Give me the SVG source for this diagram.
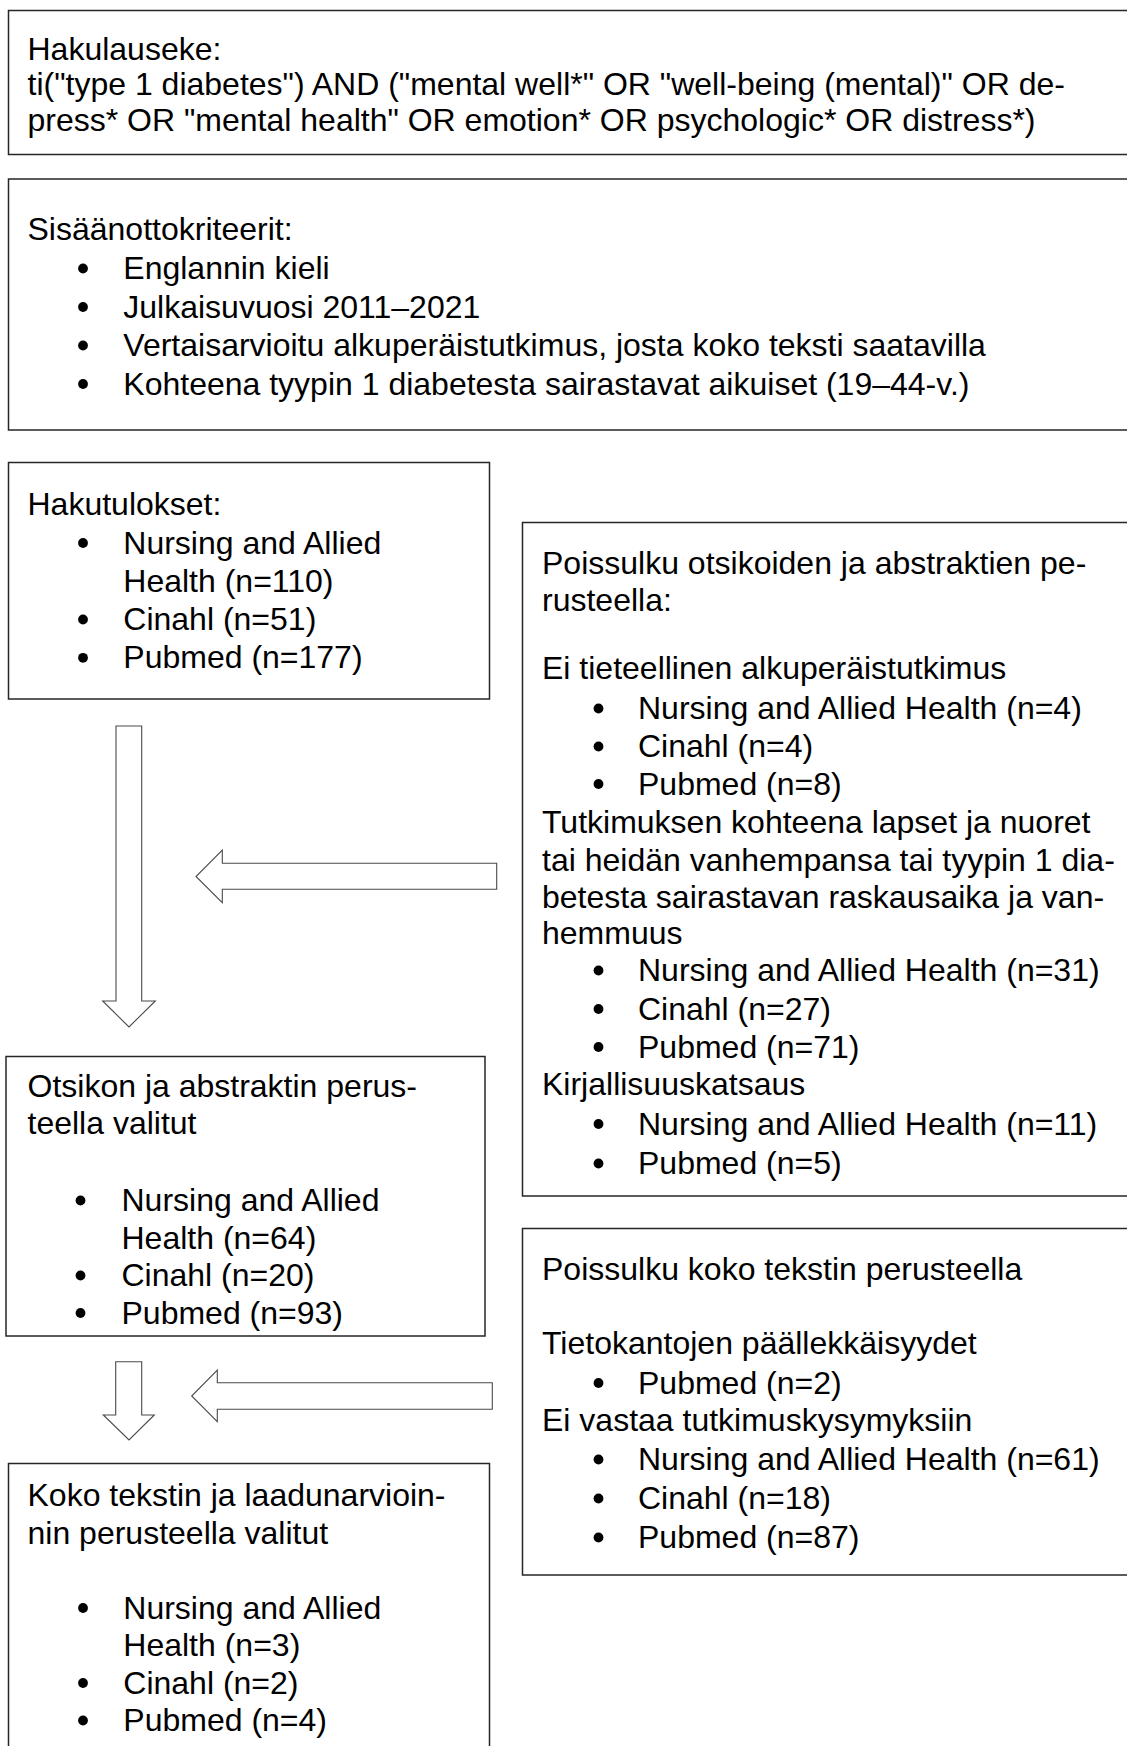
<svg xmlns="http://www.w3.org/2000/svg" width="1127" height="1746" viewBox="0 0 1127 1746">
<style>
.box{fill:#fff;stroke:#262626;stroke-width:1.5}
.arr{fill:#fff;stroke:#4a4a4a;stroke-width:1.1;stroke-linejoin:miter}
.b{fill:#000}
text{font-family:"Liberation Sans",Arial,sans-serif;font-size:32px;fill:#000}
</style>
<defs><circle id="dot" r="4.9" cx="0" cy="0"/></defs>
<rect width="1127" height="1746" fill="#fff"/>
<g id="connectors">
<polygon class="arr" points="116,726 141.7,726 141.7,1001 155.3,1001 129,1027 102.7,1001 116,1001"/>
<polygon class="arr" points="496.7,863.3 222.3,863.3 222.3,850 196,876.5 222.3,902.7 222.3,889.3 496.7,889.3"/>
<polygon class="arr" points="115.7,1361.7 141.7,1361.7 141.7,1415 154.3,1415 129,1440 103.3,1415 115.7,1415"/>
<polygon class="arr" points="492.3,1382.7 217.3,1382.7 217.3,1370 191.7,1396 217.3,1421.7 217.3,1409.3 492.3,1409.3"/>
</g>
<g id="hakulauseke">
<rect class="box" x="8.5" y="10.5" width="1140" height="144"/>
<text x="27.5" y="59.5">Hakulauseke:</text>
<text x="27.5" y="95">ti("type 1 diabetes") AND ("mental well*" OR "well-being (mental)" OR de-</text>
<text x="27.5" y="130.5">press* OR "mental health" OR emotion* OR psychologic* OR distress*)</text>
</g>
<g id="sisaanotto">
<rect class="box" x="8.5" y="179" width="1140" height="251"/>
<text x="27.5" y="240">Sisäänottokriteerit:</text>
<use href="#dot" class="b" x="83" y="268.5"/><text x="123.3" y="279">Englannin kieli</text>
<use href="#dot" class="b" x="83" y="307"/><text x="123.3" y="317.5">Julkaisuvuosi 2011–2021</text>
<use href="#dot" class="b" x="83" y="345.5"/><text x="123.3" y="356">Vertaisarvioitu alkuperäistutkimus, josta koko teksti saatavilla</text>
<use href="#dot" class="b" x="83" y="384"/><text x="123.3" y="394.5">Kohteena tyypin 1 diabetesta sairastavat aikuiset (19–44-v.)</text>
</g>
<g id="hakutulokset">
<rect class="box" x="8.5" y="462.5" width="481" height="236.5"/>
<text x="27.5" y="515">Hakutulokset:</text>
<use href="#dot" class="b" x="83" y="543"/><text x="123.3" y="553.5">Nursing and Allied</text>
<text x="123.3" y="591.5">Health (n=110)</text>
<use href="#dot" class="b" x="83" y="619.5"/><text x="123.3" y="630">Cinahl (n=51)</text>
<use href="#dot" class="b" x="83" y="657.8"/><text x="123.3" y="668.3">Pubmed (n=177)</text>
</g>
<g id="poissulku-abstraktit">
<rect class="box" x="522.5" y="522.5" width="620" height="673.5"/>
<text x="542" y="574">Poissulku otsikoiden ja abstraktien pe-</text>
<text x="542" y="611">rusteella:</text>
<text x="542" y="679">Ei tieteellinen alkuperäistutkimus</text>
<use href="#dot" class="b" x="598.5" y="708.5"/><text x="638" y="719">Nursing and Allied Health (n=4)</text>
<use href="#dot" class="b" x="598.5" y="746.5"/><text x="638" y="757">Cinahl (n=4)</text>
<use href="#dot" class="b" x="598.5" y="784"/><text x="638" y="794.5">Pubmed (n=8)</text>
<text x="542" y="832.5">Tutkimuksen kohteena lapset ja nuoret</text>
<text x="542" y="871">tai heidän vanhempansa tai tyypin 1 dia-</text>
<text x="542" y="908">betesta sairastavan raskausaika ja van-</text>
<text x="542" y="943.5">hemmuus</text>
<use href="#dot" class="b" x="598.5" y="970.5"/><text x="638" y="981">Nursing and Allied Health (n=31)</text>
<use href="#dot" class="b" x="598.5" y="1009"/><text x="638" y="1019.5">Cinahl (n=27)</text>
<use href="#dot" class="b" x="598.5" y="1047"/><text x="638" y="1057.5">Pubmed (n=71)</text>
<text x="542" y="1095">Kirjallisuuskatsaus</text>
<use href="#dot" class="b" x="598.5" y="1124"/><text x="638" y="1134.5">Nursing and Allied Health (n=11)</text>
<use href="#dot" class="b" x="598.5" y="1163.5"/><text x="638" y="1174">Pubmed (n=5)</text>
</g>
<g id="otsikko-valitut">
<rect class="box" x="6" y="1056.5" width="479" height="279.5"/>
<text x="27.5" y="1096.5">Otsikon ja abstraktin perus-</text>
<text x="27.5" y="1134">teella valitut</text>
<use href="#dot" class="b" x="80.5" y="1200.5"/><text x="121.5" y="1211">Nursing and Allied</text>
<text x="121.5" y="1248.5">Health (n=64)</text>
<use href="#dot" class="b" x="80.5" y="1275.5"/><text x="121.5" y="1286">Cinahl (n=20)</text>
<use href="#dot" class="b" x="80.5" y="1313"/><text x="121.5" y="1323.5">Pubmed (n=93)</text>
</g>
<g id="poissulku-koko">
<rect class="box" x="522.5" y="1228.5" width="620" height="346.5"/>
<text x="542" y="1280">Poissulku koko tekstin perusteella</text>
<text x="542" y="1353.5">Tietokantojen päällekkäisyydet</text>
<use href="#dot" class="b" x="598.5" y="1383"/><text x="638" y="1393.5">Pubmed (n=2)</text>
<text x="542" y="1431.2">Ei vastaa tutkimuskysymyksiin</text>
<use href="#dot" class="b" x="598.5" y="1459.5"/><text x="638" y="1470">Nursing and Allied Health (n=61)</text>
<use href="#dot" class="b" x="598.5" y="1498.5"/><text x="638" y="1509">Cinahl (n=18)</text>
<use href="#dot" class="b" x="598.5" y="1537.5"/><text x="638" y="1548">Pubmed (n=87)</text>
</g>
<g id="koko-teksti-valitut">
<rect class="box" x="8.5" y="1463.5" width="481" height="300"/>
<text x="27.5" y="1506">Koko tekstin ja laadunarvioin-</text>
<text x="27.5" y="1543.5">nin perusteella valitut</text>
<use href="#dot" class="b" x="83" y="1608"/><text x="123.3" y="1618.5">Nursing and Allied</text>
<text x="123.3" y="1656">Health (n=3)</text>
<use href="#dot" class="b" x="83" y="1683"/><text x="123.3" y="1693.5">Cinahl (n=2)</text>
<use href="#dot" class="b" x="83" y="1720.5"/><text x="123.3" y="1731">Pubmed (n=4)</text>
</g>
</svg>
